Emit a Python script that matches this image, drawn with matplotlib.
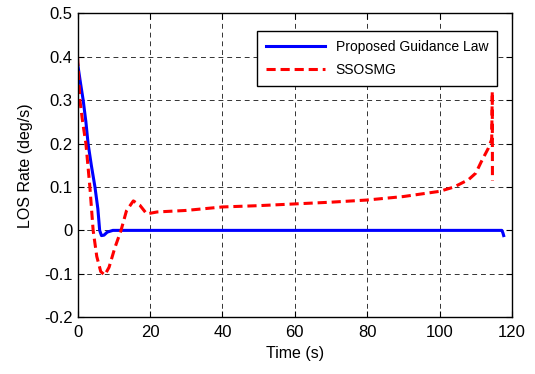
import numpy as np
import matplotlib
matplotlib.use('Agg')
import matplotlib.pyplot as plt

plt.rcParams['font.family'] = ['Liberation Sans', 'DejaVu Sans']

# Proposed guidance law (blue)
t_prop = [0, 0.8, 1.55, 2.3, 2.9, 3.8, 4.8, 5.6, 6.1, 6.6, 7.3, 8.2, 9.75, 30, 60, 90, 117.2, 117.5, 117.7]
los_prop = [0.385, 0.34, 0.30, 0.25, 0.20, 0.15, 0.10, 0.05, 0.0, -0.012, -0.011, -0.004, 0.0, 0.0, 0.0, 0.0, 0.0, -0.006, -0.012]

# SSOSMG (red)
t_ssos = [0, 0.64, 1.4, 2.3, 3.4, 4.3, 5.3, 6.4, 7.5, 8.7, 10.3, 12.0, 13.5, 15.4, 17.2, 19.1,
          22, 30, 40, 50, 60, 70, 80, 90, 100, 104, 108, 110, 111.5, 113.5, 114.4, 114.55, 114.6]
los_ssos = [0.40, 0.30, 0.25, 0.20, 0.10, 0.0, -0.06, -0.095, -0.103, -0.085, -0.04, 0.0, 0.045, 0.068, 0.058, 0.038,
            0.0425, 0.046, 0.054, 0.057, 0.061, 0.065, 0.070, 0.078, 0.090, 0.100, 0.117, 0.132, 0.158, 0.19, 0.21, 0.32, 0.115]

fig = plt.figure(figsize=(5.35, 3.74), dpi=100)
ax = fig.add_axes([0.145, 0.152, 0.812, 0.812])

ax.plot(t_prop, los_prop, color='#0000ff', lw=2.2, label='Proposed Guidance Law')
ax.plot(t_ssos, los_ssos, color='#ff0000', lw=2.2, ls=(0, (3, 1.6)), label='SSOSMG')

ax.set_xlim(0, 120)
ax.set_ylim(-0.2, 0.5)
ax.set_xticks(np.arange(0, 121, 20))
ax.set_yticks(np.round(np.arange(-0.2, 0.51, 0.1), 1))
ax.set_yticklabels(['-0.2', '-0.1', '0', '0.1', '0.2', '0.3', '0.4', '0.5'])
ax.grid(True, color='#333333', ls=(0, (5, 4)), lw=0.7)
ax.tick_params(direction='in', labelsize=12, length=4, top=True, right=True)
ax.tick_params(axis='x', pad=6)
for s in ax.spines.values():
    s.set_linewidth(1.0)

ax.set_xlabel('Time (s)', fontsize=11.5, labelpad=4)
ax.set_ylabel('LOS Rate (deg/s)', fontsize=11.5, labelpad=8)

leg = ax.legend(loc='upper right', bbox_to_anchor=(0.982, 0.965), fontsize=10,
                fancybox=False, framealpha=1, edgecolor='black', handlelength=4.2,
                borderpad=0.65, labelspacing=0.65)
leg.get_frame().set_linewidth(1.0)

fig.savefig('out.png', dpi=100)
